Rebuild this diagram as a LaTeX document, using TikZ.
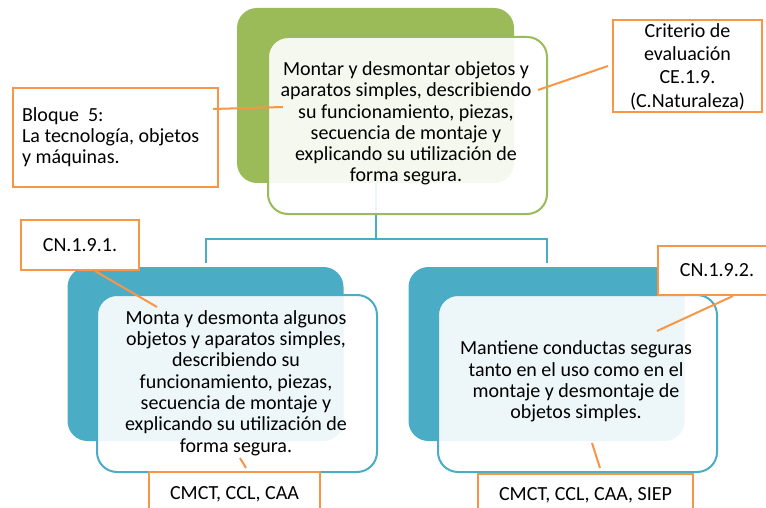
\documentclass[tikz,border=0pt]{standalone}
\usepackage{fontspec}
\setmainfont{Carlito}
\usetikzlibrary{calc}
\definecolor{tgreen}{HTML}{9BBB59}
\definecolor{tblue}{HTML}{4BACC6}
\definecolor{torange}{HTML}{F79646}
\begin{document}
\begin{tikzpicture}[x=1pt,y=-1pt,
  every node/.style={font=\fontsize{20}{21.3}\selectfont, inner sep=0pt, outer sep=0pt},
  backbox/.style={rectangle, rounded corners=20pt, minimum width=#1},
  greenback/.style={backbox=277pt, fill=tgreen, minimum height=175pt},
  blueback/.style={backbox=276pt, fill=tblue, minimum height=174pt},
  front/.style={rectangle, rounded corners=20pt, line width=2pt, fill=white, fill opacity=0.9, text opacity=1, align=center, minimum width=279pt, minimum height=177pt},
  label/.style={align=center},
  obox/.style={rectangle, draw=torange, line width=2pt, fill=white, align=center},
  conn/.style={draw=torange, line width=2pt},
  tree/.style={draw=tblue, line width=2pt}]
\useasboundingbox (0,0) rectangle (766,508);

% back boxes
\node[greenback] (gT) at (375.5,95.5) {};
\node[blueback] (bL) at (205.5,354) {};
\node[blueback] (bR) at (546.5,354) {};

% tree connector
\coordinate (j) at (375.5,239);
\draw[tree] (gT.south) -- (j);
\draw[tree] ($(bL.north)+(0,-4)$) |- (j) -| ($(bR.north)+(0,-4)$);

% front boxes
\node[front, draw=tgreen] (fT) at (407.5,125.5) {};
\node[label] (tT) at (406,123.5) {Montar y desmontar objetos y\\aparatos simples, describiendo\\su funcionamiento, piezas,\\secuencia de montaje y\\explicando su utilización de\\forma segura.};
\node[front, draw=tblue, minimum width=280pt] (fL) at (237,383.5) {};
\node[label] (tL) at (236,383) {Monta y desmonta algunos\\objetos y aparatos simples,\\describiendo su\\funcionamiento, piezas,\\secuencia de montaje y\\explicando su utilización de\\forma segura.};
\node[front, draw=tblue] (fR) at (577.5,383.5) {};
\node[label] (tR) at (576,381.5) {Mantiene conductas seguras\\tanto en el uso como en el\\montaje y desmontaje de\\objetos simples.};

% orange boxes
\node[obox, minimum width=205pt, minimum height=99pt] (blq) at (115.5,137.5) {};
\node[align=left, anchor=west] (tblq) at (22,137) {Bloque\ \ 5:\\La tecnología, objetos\\y máquinas.};
\node[obox, minimum width=149pt, minimum height=92pt, font=\fontsize{20}{23.3}\selectfont] (crit) at (687.5,66.5) {Criterio de\\evaluación\\CE.1.9.\\(C.Naturaleza)};
\node[obox, minimum width=118pt, minimum height=50pt] (cn1) at (80,245) {CN.1.9.1.};
\node[obox, minimum width=118pt, minimum height=49pt] (cn2) at (717,270.5) {CN.1.9.2.};
\node[obox, minimum width=171pt, minimum height=44pt] (ccL) at (234.5,494) {CMCT, CCL, CAA};
\node[obox, minimum width=215pt, minimum height=42pt] (ccR) at (585.5,495) {CMCT, CCL, CAA, SIEP};

% orange connectors
\coordinate (a1) at (213,109); \coordinate (a2) at (283,107);
\coordinate (b1) at (538,90);  \coordinate (b2) at (608,66);
\coordinate (c1) at (95,271);  \coordinate (c2) at (157,307);
\coordinate (d1) at (733,296); \coordinate (d2) at (657,331);
\coordinate (e1) at (240,458); \coordinate (e2) at (246,468);
\coordinate (f1) at (592,443); \coordinate (f2) at (600,468);
\draw[conn] (a1) -- (a2);
\draw[conn] (b1) -- (b2);
\draw[conn] (c1) -- (c2);
\draw[conn] (d1) -- (d2);
\draw[conn] (e1) -- (e2);
\draw[conn] (f1) -- (f2);
\end{tikzpicture}
\end{document}
